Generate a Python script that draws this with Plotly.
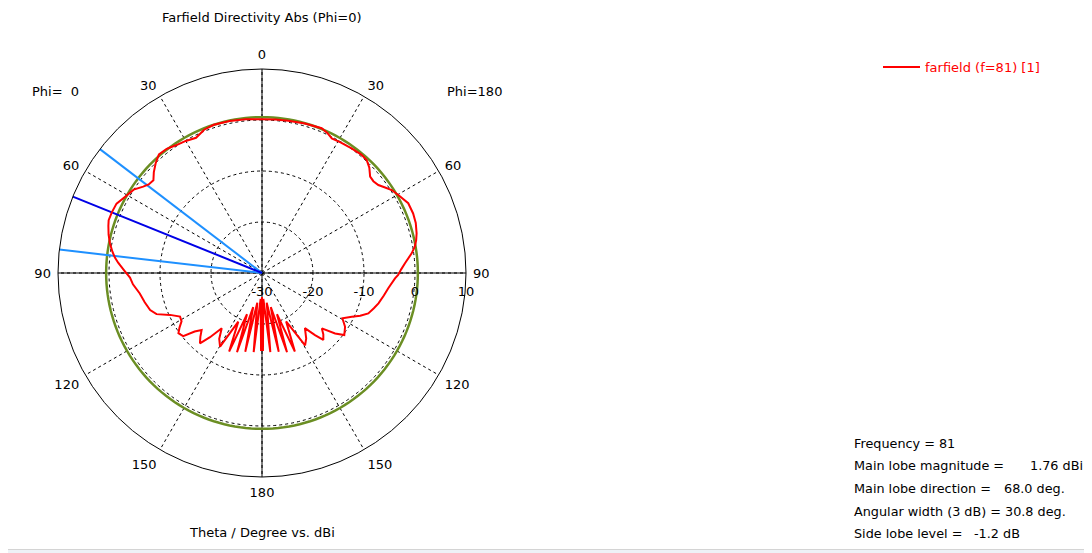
import plotly.graph_objects as go

# ---------------- data ----------------
# Phi = 0 half (drawn on the left side), theta in degrees, directivity in dBi
theta_phi0 = [0, 6, 12, 18, 22, 26, 30, 34, 37.5, 41, 44, 47, 49.5, 52, 54, 57, 61, 64.5, 68, 71,
              73, 76, 79, 82, 84, 86, 89, 92, 95, 99.5, 104, 108.3, 111.3, 114.5, 118, 121, 123.5,
              125.8, 128.7, 131, 133.4, 136, 138.6, 141, 143.9, 147, 150.3, 154, 157.3, 160, 162.5,
              165.5, 168, 171, 174, 177, 179.3, 180]
dbi_phi0 = [0.14, 0.3, 0.45, 0.55, 0.3, -0.5, -0.1, 0.2, 0.7, 0.8, 0.0, -1.0, -2.0, -1.8, -1.2, 0.0,
            0.75, 1.6, 1.76, 1.8, 1.5, 1.0, 0.37, -0.4, -1.0, -1.76, -3.0, -4.1, -4.6, -5.7, -6.3,
            -6.9, -7.8, -10.2, -11.8, -11.6, -10.6, -9.8, -10.2, -12.5, -13.7, -12.6, -11.6, -13.8,
            -16.6, -14.6, -13.4, -19.4, -13.3, -21.4, -13.7, -23.1, -14.2, -24.1, -14.4, -24.9,
            -14.7, -25.3]

# Phi = 180 half (drawn on the right side)
theta_phi180 = [0, 5, 9.8, 16, 22.4, 25, 27.4, 31, 35.7, 40, 42.8, 45.5, 48.3, 50.5, 52.9, 55, 57.4,
                60.2, 64.5, 68.5, 72, 75.6, 78, 80.2, 82.5, 86.1, 88.5, 90.8, 92.3, 96.9, 100.5,
                104.6, 107.5, 110.8, 113.5, 116, 119.4, 122.9, 127, 129.6, 132.8, 135, 137.5, 139.5,
                142.1, 146, 149.2, 153.5, 157.3, 160, 162.5, 165.5, 168, 171, 174, 177, 179.3, 180]
dbi_phi180 = [0.14, 0.2, 0.3, 0.5, 0.7, 0.3, -0.26, -0.1, 0.1, 0.3, 0.2, -0.5, -1.6, -1.7, -1.4,
              -0.7, 0.2, 0.8, 1.77, 1.85, 1.7, 1.3, 0.9, 0.4, -0.4, -1.9, -2.7, -3.3, -3.9, -5.06,
              -5.7, -6.4, -7.0, -7.7, -9.0, -10.4, -11.9, -10.6, -9.8, -11.4, -14.0, -13.0, -12.2,
              -14.0, -16.3, -14.5, -13.5, -19.4, -13.3, -21.4, -13.7, -23.1, -14.2, -24.1, -14.4,
              -24.9, -14.7, -25.3]

frequency = 81
main_lobe_magnitude = 1.76      # dBi
main_lobe_direction = 68.0      # deg
angular_width_3db = 30.8        # deg
side_lobe_level = -1.2          # dB

radial_ticks = [-30, -20, -10, 0, 10]
angle_tickvals = [0, 30, 60, 90, 120, 150, 180, 210, 240, 270, 300, 330]
angle_ticktext = ["0", "30", "60", "90", "120", "150", "180", "150", "120", "90", "60", "30"]

# ---------------- figure ----------------
W, H = 1092, 553
OFF = 8  # page body margin
FONT = "DejaVu Sans"
FS = 13
FS_INFO = 12.8

def px_x(x):
    return (x - OFF) / W

def px_y(y):
    return 1 - (y - OFF) / H

rmin, rmax = radial_ticks[0], radial_ticks[-1]

# full-circle curve: Phi=0 side at theta, Phi=180 side at 360-theta
curve_theta = list(theta_phi0) + [360 - t for t in reversed(theta_phi180)]
curve_r = list(dbi_phi0) + list(reversed(dbi_phi180))

fig = go.Figure()

# solid cross axes
for ang in [0, 90, 180, 270]:
    fig.add_trace(go.Scatterpolar(theta=[ang, ang], r=[rmin, rmax], mode="lines",
                                  line=dict(color="black", width=1), showlegend=False,
                                  hoverinfo="skip"))

# side lobe level circle
sll_level = main_lobe_magnitude + side_lobe_level
circ_theta = list(range(0, 361, 2))
fig.add_trace(go.Scatterpolar(theta=circ_theta, r=[sll_level] * len(circ_theta), mode="lines",
                              line=dict(color="#6B8E23", width=2.5), showlegend=False,
                              hoverinfo="skip"))

# main lobe direction and 3 dB width lines
half = angular_width_3db / 2
for ang, col in [(main_lobe_direction - half, "#1E90FF"),
                 (main_lobe_direction + half, "#1E90FF"),
                 (main_lobe_direction, "#0000E6")]:
    fig.add_trace(go.Scatterpolar(theta=[ang, ang], r=[rmin, rmax], mode="lines",
                                  line=dict(color=col, width=2), showlegend=False,
                                  hoverinfo="skip"))

# farfield curve
fig.add_trace(go.Scatterpolar(theta=curve_theta, r=curve_r, mode="lines",
                              line=dict(color="#FF0000", width=2),
                              name="farfield (f=%d) [1]" % frequency))

fig.update_layout(
    width=W, height=H, autosize=False,
    margin=dict(l=0, r=0, t=0, b=0),
    paper_bgcolor="white", plot_bgcolor="white",
    font=dict(family=FONT, size=FS, color="black"),
    polar=dict(
        domain=dict(x=[px_x(58), px_x(466)], y=[px_y(477), px_y(69)]),
        bgcolor="white",
        angularaxis=dict(rotation=90, direction="counterclockwise",
                         tickmode="array", tickvals=angle_tickvals, ticktext=angle_ticktext,
                         ticks="outside", ticklen=4, tickcolor="rgba(0,0,0,0)",
                         showline=True, linecolor="black", linewidth=1,
                         showgrid=True, gridcolor="black", gridwidth=1, griddash="3px,3px",
                         tickfont=dict(family=FONT, size=FS, color="black")),
        radialaxis=dict(range=[rmin, rmax], tickmode="array", tickvals=radial_ticks,
                        ticktext=[str(v) for v in radial_ticks], angle=0, side="clockwise",
                        ticks="outside", ticklen=7, tickcolor="rgba(0,0,0,0)",
                        showline=False, showgrid=True, gridcolor="black",
                        gridwidth=1, griddash="3px,3px",
                        tickfont=dict(family=FONT, size=FS, color="black")),
    ),
    showlegend=True,
    legend=dict(x=px_x(878), y=px_y(52), xanchor="left", yanchor="top", itemwidth=37,
                font=dict(family=FONT, size=FS, color="#FF0000"),
                bgcolor="rgba(0,0,0,0)", borderwidth=0),
)

annots = [
    ("Farfield Directivity Abs (Phi=0)", 262, 17, "center", FS),
    ("Theta / Degree vs. dBi", 262, 532, "center", FS),
    ("Phi=&nbsp;&nbsp;0", 30, 91, "left", FS),
    ("Phi=180", 445, 91, "left", FS),
    ("Frequency = %d" % frequency, 852, 443, "left", FS_INFO),
    ("Main lobe magnitude =", 852, 465, "left", FS_INFO),
    ("%.2f dBi" % main_lobe_magnitude, 1028, 465, "left", FS_INFO),
    ("Main lobe direction =", 852, 488, "left", FS_INFO),
    ("%.1f deg." % main_lobe_direction, 1002, 488, "left", FS_INFO),
    ("Angular width (3 dB) =", 852, 511, "left", FS_INFO),
    ("%.1f deg." % angular_width_3db, 1003, 511, "left", FS_INFO),
    ("Side lobe level =", 852, 533, "left", FS_INFO),
    ("%.1f dB" % side_lobe_level, 972, 533, "left", FS_INFO),
]
for text, x, y, anchor, fs in annots:
    fig.add_annotation(text=text, x=px_x(x), y=px_y(y), xref="paper", yref="paper",
                       xanchor=anchor, yanchor="middle", showarrow=False,
                       font=dict(family=FONT, size=fs, color="black"))

# window frame lines
fig.add_shape(type="line", xref="paper", yref="paper", x0=px_x(1087.5), x1=px_x(1087.5),
              y0=px_y(549), y1=1, line=dict(color="#d4d4d4", width=1))
fig.add_shape(type="rect", xref="paper", yref="paper", x0=0, x1=1, y0=0, y1=px_y(549.5),
              line=dict(width=0), fillcolor="#eef2f7")
fig.add_shape(type="line", xref="paper", yref="paper", x0=0, x1=1, y0=px_y(549.5),
              y1=px_y(549.5), line=dict(color="#d4d4d4", width=1))

fig.write_html("out.html")
